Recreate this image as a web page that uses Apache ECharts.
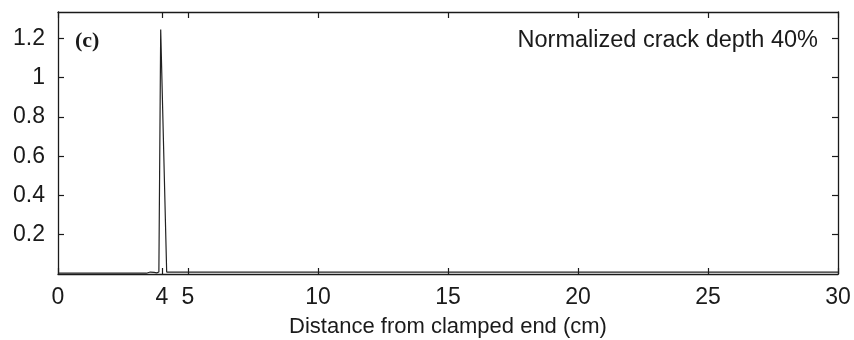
<!DOCTYPE html>
<html>
<head>
<meta charset="utf-8">
<script src="https://cdn.jsdelivr.net/npm/echarts@6/dist/echarts.min.js"></script>
<style>
  html, body { margin: 0; padding: 0; background: #fff; }
  #chart { width: 854px; height: 340px; }
</style>
</head>
<body>
<div id="chart"></div>
<script>
// Crack-indicator profile along the beam, 40% normalized crack depth
const distanceCm = [0, 1, 2, 3, 3.4, 3.55, 3.62, 3.7, 3.8, 3.88, 3.95, 4.18, 5, 10, 15, 20, 25, 30];
const indicator  = [0.004, 0.004, 0.004, 0.004, 0.004, 0.01, 0.014, 0.008, 0.006, 0.01, 1.245, 0.01, 0.01, 0.01, 0.01, 0.01, 0.01, 0.01];

const xTicks = [0, 4, 5, 10, 15, 20, 25, 30];
const yTicks = [0.2, 0.4, 0.6, 0.8, 1, 1.2];

const panelTag = '(c)';
const caseLabel = 'Normalized crack depth 40%';
const xTitle = 'Distance from clamped end (cm)';

const ink = '#1a1a1a';
const sans = '"Liberation Sans", Arial, Helvetica, sans-serif';

const chart = echarts.init(document.getElementById('chart'), null, { renderer: 'canvas' });

const baseX = {
  type: 'value', min: 0, max: 30,
  axisLine: { show: true, onZero: false, lineStyle: { color: ink, width: 1.3 } },
  splitLine: { show: false },
  axisTick: { show: true, inside: true, length: 6, customValues: xTicks, lineStyle: { color: ink, width: 1.2 } }
};
const baseY = {
  type: 'value', min: 0, max: 1.334,
  axisLine: { show: true, onZero: false, lineStyle: { color: ink, width: 1.3 } },
  splitLine: { show: false },
  axisTick: { show: true, inside: true, length: 6, customValues: yTicks, lineStyle: { color: ink, width: 1.2 } }
};

chart.setOption({
  animation: false,
  backgroundColor: '#fff',
  grid: { left: 58, right: 16, top: 12, bottom: 66, containLabel: false, outerBoundsMode: 'none' },
  xAxis: [
    Object.assign({}, baseX, {
      position: 'bottom',
      name: xTitle, nameLocation: 'middle', nameGap: 42,
      nameTextStyle: { fontFamily: sans, fontSize: 22, color: ink },
      axisLabel: { show: true, customValues: xTicks, margin: 12, fontFamily: sans, fontSize: 23, color: ink,
        formatter: v => String(v) }
    }),
    Object.assign({}, baseX, { position: 'top', axisLabel: { show: false } })
  ],
  yAxis: [
    Object.assign({}, baseY, {
      position: 'left',
      axisLabel: { show: true, customValues: yTicks, margin: 13, fontFamily: sans, fontSize: 23, color: ink,
        formatter: v => String(+v.toFixed(1)) }
    }),
    Object.assign({}, baseY, { position: 'right', axisLabel: { show: false } })
  ],
  graphic: [
    { type: 'text', left: 75, top: 30,
      style: { text: panelTag, font: 'bold 22px "Liberation Serif", "Times New Roman", serif', fill: ink } },
    { type: 'text', right: 36, top: 29,
      style: { text: caseLabel, font: '23.5px ' + sans, fill: ink } }
  ],
  series: [{
    type: 'line',
    xAxisIndex: 0, yAxisIndex: 0,
    data: distanceCm.map((x, i) => [x, indicator[i]]),
    showSymbol: false,
    lineStyle: { color: '#222', width: 1.2 },
    silent: true
  }]
});
</script>
</body>
</html>
